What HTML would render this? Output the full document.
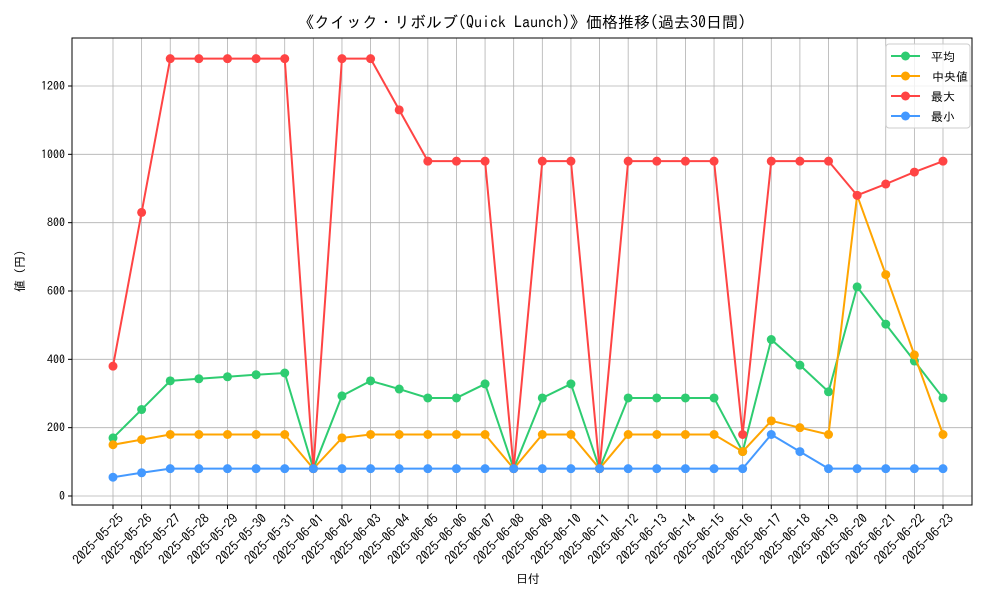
<!DOCTYPE html>
<html><head><meta charset="utf-8"><style>
body{margin:0;background:#fff;}
svg{font-family:"IPAGothic","Liberation Sans","Noto Sans CJK JP",sans-serif;}
</style></head><body>
<svg id="c" width="1000" height="600" xmlns="http://www.w3.org/2000/svg">
<rect width="1000" height="600" fill="#fff"/>
<text x="522" y="28" font-size="16" text-anchor="middle">《クイック・リボルブ(Quick Launch)》価格推移(過去30日間)</text>
<g id="grid"></g>
<rect x="72" y="38" width="900" height="467" fill="none" stroke="#000" stroke-width="1"/>
<g id="axes"></g>
<g id="series"></g>
<text x="528" y="583" font-size="12" text-anchor="middle">日付</text>
<text transform="translate(24,271) rotate(-90)" font-size="12" text-anchor="middle">値 (円)</text>
<g id="legend"></g>
</svg>
<script>
const dates=["2025-05-25","2025-05-26","2025-05-27","2025-05-28","2025-05-29","2025-05-30","2025-05-31","2025-06-01","2025-06-02","2025-06-03","2025-06-04","2025-06-05","2025-06-06","2025-06-07","2025-06-08","2025-06-09","2025-06-10","2025-06-11","2025-06-12","2025-06-13","2025-06-14","2025-06-15","2025-06-16","2025-06-17","2025-06-18","2025-06-19","2025-06-20","2025-06-21","2025-06-22","2025-06-23"];
const avgVals=[170,253,337,343,349,355,360,80,293,337,313,287,287,328,80,287,328,80,287,287,287,287,130,458,383,305,612,503,395,287];
const medianVals=[150,165,180,180,180,180,180,80,170,180,180,180,180,180,80,180,180,80,180,180,180,180,130,220,200,180,880,648,413,180];
const maxVals=[380,830,1280,1280,1280,1280,1280,80,1280,1280,1130,980,980,980,80,980,980,80,980,980,980,980,180,980,980,980,880,913,948,980];
const minVals=[55,68,80,80,80,80,80,80,80,80,80,80,80,80,80,80,80,80,80,80,80,80,80,180,130,80,80,80,80,80];
const yTicks=[0,200,400,600,800,1000,1200];
const seriesNames=["平均","中央値","最大","最小"];
const NS="http://www.w3.org/2000/svg";
const xs=i=>113+i*(943-113)/(dates.length-1);
const ys=v=>496-v*(410/1200);
function mk(tag,attrs,parent){const e=document.createElementNS(NS,tag);for(const k in attrs)e.setAttribute(k,attrs[k]);parent.appendChild(e);return e;}
const grid=document.getElementById('grid'),axes=document.getElementById('axes'),ser=document.getElementById('series'),leg=document.getElementById('legend');
dates.forEach((d,i)=>{
 const x=xs(i);
 const g=mk('line',{x1:x,x2:x,y1:38,y2:505,stroke:'#b0b0b0','stroke-width':0.8},grid);
 
 
 const t=mk('line',{x1:x,x2:x,y1:505,y2:509,stroke:'#000'},axes);
 
 
 const l=mk('text',{transform:`translate(${x+5},513) rotate(-45)`,'text-anchor':'end','font-size':13,'dominant-baseline':'hanging'},axes);
 l.textContent=d;
 
 
});
yTicks.forEach(v=>{
 const y=ys(v);
 const g=mk('line',{x1:72,x2:972,y1:y,y2:y,stroke:'#b0b0b0','stroke-width':0.8},grid);
 
 
 const t=mk('line',{x1:68,x2:72,y1:y,y2:y,stroke:'#000'},axes);
 
 
 const l=mk('text',{x:65,y:y+4,'text-anchor':'end','font-size':12},axes);
 l.textContent=v;
 
 
});
const all=[avgVals,medianVals,maxVals,minVals];
const colors=["#2ecc71","#ffa500","#ff4444","#4499ff"];
const keys=["avg","median","max","min"];
all.forEach((vals,si)=>{
 const p=mk('polyline',{points:vals.map((v,i)=>xs(i)+','+ys(v)).join(' '),fill:'none',stroke:colors[si],'stroke-width':2},ser);
 
 
 vals.forEach((v,i)=>{
  const c=mk('circle',{cx:xs(i),cy:ys(v),r:4.5,fill:colors[si]},ser);
  
  
 });
});
const box=mk('rect',{x:886,y:44,width:84,height:84,rx:3,fill:'#fff','fill-opacity':0.8,stroke:'#ccc'},leg);


seriesNames.forEach((n,i)=>{
 const y=56+i*20;
 const g=mk('g',{},leg);
 
 
 mk('line',{x1:891,x2:920,y1:y,y2:y,stroke:colors[i],'stroke-width':2},g);
 mk('circle',{cx:905.5,cy:y,r:4.5,fill:colors[i]},g);
 const t=mk('text',{x:i==1?932:931,y:y+5,'font-size':12},g);
 t.textContent=n;
});
</script>
</body></html>
